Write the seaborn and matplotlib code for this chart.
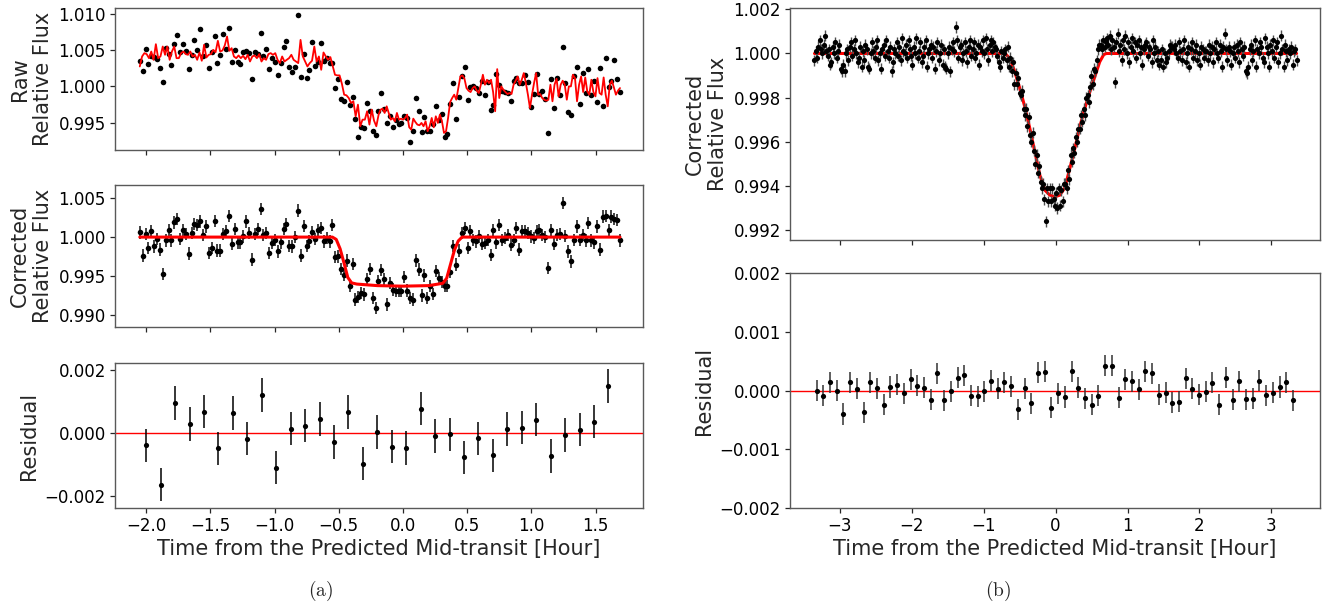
import numpy as np
import matplotlib
matplotlib.use("Agg")
import matplotlib.pyplot as plt
from matplotlib.ticker import FuncFormatter
import seaborn as sns

# ---------------- (a) left column ----------------
# time range of the observation (hours from predicted mid-transit)
t_a_start, t_a_end = -2.05, 1.69

# raw flux, deviation from 1 in units of 1e-4
raw_dev = [34.2, 20.5, 51.1, 30.1, 42.0, 39.7, 37.4, 25.1, 6.4, 52.5,
           44.3, 28.8, 58.4, 70.3, 46.6, 58.0, 48.9, 23.3, 42.5, 64.4,
           50.2, 78.5, 42.0, 56.6, 24.7, 47.5, 69.4, 32.4, 43.4, 72.1,
           51.6, 79.9, 32.9, 49.8, 32.9, 30.6, 47.9, 48.9, 45.7, 9.6,
           46.6, 44.3, 73.1, 42.0, 51.6, 24.2, 38.4, 32.9, 15.1, 32.0,
           53.9, 62.6, 26.9, 20.1, 26.5, 98.2, 12.8, 44.7, 11.9, 21.9,
           60.7, 28.3, 32.9, 59.8, 34.2, 39.3, 32.0, 32.4, -2.3, 9.6,
           -17.4, -19.6, 5.5, -26.0, -15.1, -44.3, -69.4, -55.7, -56.6, -22.8,
           -33.3, -60.7, -67.1, -33.3,
           -9.6, -31.0, -49.8, -40.2, -56.2, -45.7, -51.6, -50.2, -41.1, -42.9,
           -76.3, -60.7, -16.4, -34.2, -63.0, -42.0, -60.7, -61.6, -51.6, -26.5,
           -45.7, -38.4, -68.9, -65.3, -23.7, 4.1, -44.7, -15.1, 13.7, 26.0,
           -18.7, -1.4, 0.0, -2.3, -9.1, 7.3, -11.4, 5.5, -32.4, -25.1,
           16.4, 1.4, -5.9, -7.8, -8.7, -20.1, 6.8, 11.4, 4.6, 4.6,
           16.0, 6.4, -28.3, -10.5, 16.9, -10.5, -6.8, -17.4, -63.9, 9.6,
           -30.1, 11.4, -11.4, 54.8, 4.1, -35.2, -38.8, 13.7, 26.0, -24.2,
           18.3, -9.1, 23.7, -11.4, 6.8, -21.9, 25.1, -27.4, 38.8, -1.4,
           7.8, 35.6, 10.5, -7.8]

# full (systematics x transit) model drawn over the raw flux, 1e-4 units
raw_model_pre = [27.4, 41.1, 45.7, 44.3, 38.8, 47.9, 36.5, 58.0, 38.8, 41.1,
                 54.8, 43.4, 54.8, 36.5, 47.9, 54.8, 38.8, 38.8, 45.7, 47.9,
                 44.3, 43.4, 47.9, 41.1, 43.4, 36.5, 46.6, 35.2, 57.1, 39.7,
                 43.4, 44.3, 50.2, 47.0, 62.6, 47.9, 49.3, 56.2, 68.5, 48.9,
                 52.5, 41.1, 38.8, 42.5, 38.8, 42.0, 37.4, 43.4, 34.2, 41.1,
                 42.5, 38.8, 44.3, 34.2, 38.8, 36.5, 44.3, 45.7, 43.4, 45.7,
                 36.5, 32.0, 41.1, 34.2, 36.5, 38.8, 43.4, 36.5, 34.2, 32.0,
                 63.9, 41.1, 34.2, 27.4, 32.0, 35.2, 54.8, 34.2, 41.1, 22.8,
                 46.6, 41.1, 36.5, 40.2, 28.3, 16.0, 15.1, 15.1, 3.7, -11.4,
                 -12.3, -16.0, -22.8, -20.5, -41.1, -25.1, -54.8, -45.7, -45.7, -34.2,
                 -52.5, -32.0, -47.0, -54.8, -38.8]
raw_model_post = [-32.0, -30.6, -36.5, -27.4, -36.5, -45.7, -43.4, -47.9, -36.5, -45.7,
                  -44.3, -45.7, -43.4, -38.8, -56.2, -59.4, -44.3, -48.9, -52.5, -53.4,
                  -50.2, -54.8, -47.9, -61.6, -54.8, -43.4, -56.2, -41.1, -50.2, -38.8,
                  -47.9, -63.9, -61.6, -43.4, -21.5, -16.0, -11.4, -18.3, -2.3, 13.7,
                  15.1, 10.5, -2.3, -5.9, -7.8, -2.3, 0.0, -5.9, -9.1, 2.3,
                  16.0, 2.3, 9.1, 4.6, 9.1, -7.8, -34.2, 23.7, -16.0, 0.0,
                  -4.6, -7.8, -10.5, -9.1, -10.5, 2.3, 7.8, 13.7, 2.3, 9.1,
                  18.3, 4.6, -11.4, -29.7, -11.4, 4.6, 18.3, -11.4, -10.5, -16.0,
                  -18.3, -19.6, -18.3, 2.3, -20.5, 2.3, 10.5, -13.7, 2.3, 7.8,
                  2.3, -18.3, 0.0, 0.0, 16.0, 11.4, -20.5, 2.3, 13.7, -7.8,
                  12.3, -6.8, -11.4, 9.1, -7.8, -13.7, 11.4, -9.1, -11.4, 12.3,
                  -11.4, -27.4, 2.3, 7.8, -1.4, -11.4, -5.9, -2.3]
raw_model_split = (-0.19, -0.175)

# corrected flux, 1e-4 units
corr_dev = [6.0, -23.9, 3.8, -13.7, 7.3, -12.0, -2.6, -16.2, -47.4, -4.3,
            9.4, -4.3, 18.8, 23.1, -2.6, 9.4, 3.8, -21.4, 5.1, 17.1,
            15.8, 20.1, 3.0, 13.7, -20.5, -14.1, 20.9, -17.5, -17.5, 3.8,
            8.1, 27.4, -8.5, 10.3, -6.8, -6.8, 0.9, 20.1, 5.1, -29.1,
            3.8, 10.3, 35.9, 3.0, 5.1, -20.5, -7.7, -3.4, -18.4, -6.8,
            10.3, 17.1, -11.1, -12.0, 0.0, 34.2, -23.9, 14.5, -11.1, -5.6,
            6.0, -2.6, 9.4, 11.5, -5.6, -1.3, -5.6, 15.8, -25.6, -24.8,
            -41.0, -48.3, -30.3, -63.3, -34.6, -80.4, -76.9, -71.8, -73.9, -53.9,
            -41.0, -78.2, -91.0, -56.8,
            -42.7, -53.9, -86.8, -59.0, -67.5, -69.7, -69.7, -69.7, -51.7, -68.8,
            -78.2, -80.4, -29.9, -41.9, -75.2, -49.2, -78.2, -63.3, -73.1, -44.0,
            -52.6, -57.7, -63.3, -63.3, -45.3, -11.1, -35.5, -17.5, 5.1, 11.5,
            -14.1, 7.3, -3.4, -5.6, 0.9, -8.5, -7.7, -3.4, -22.7, 8.5,
            -6.8, 15.8, -3.4, -1.3, 3.0, -9.8, -3.4, 11.5, -16.2, 7.3,
            7.3, 5.1, 0.9, -1.3, 7.3, 9.4, 3.0, 0.0, -39.7, 8.5,
            -8.5, 3.0, 4.3, 43.6, 1.7, -18.4, -31.2, -3.4, 13.7, -3.4,
            3.0, -4.3, 18.0, -4.3, -6.8, 13.7, -16.2, 26.5, 27.4, 9.4,
            26.5, 23.1, 22.2, -4.3]
corr_err = 0.0008

# transit model (a): time knots and depth (1e-4 units)
transit_a_t = [-2.05, -0.55, -0.52, -0.49, -0.46, -0.43, -0.40, -0.36, -0.20, 0.0,
               0.20, 0.31, 0.34, 0.37, 0.40, 0.43, 0.46, 1.69]
transit_a_dev = [0, 0, -3, -15, -33, -52, -59, -60.5, -62.5, -63.2,
                 -62.5, -59.5, -53, -35, -17, -5, 0, 0]

# binned residuals (a), units of 1e-3
res_a_start, res_a_end = -2.0, 1.60
res_a = [-0.40, -1.65, 0.94, 0.27, 0.67, -0.50, 0.62, -0.19, 1.20, -1.11,
         0.13, 0.22, 0.44, -0.29, 0.65, -0.98, 0.02, -0.44, -0.49, 0.76,
         -0.11, -0.05, -0.78, -0.18, -0.72, 0.11, 0.16, 0.41, -0.74, -0.08,
         0.10, 0.35, 1.48]
res_a_err = 0.00053

# ---------------- (b) right column ----------------
t_b_start, t_b_end = -3.35, 3.35
corr_b_dev = [-3, 1, -2, 3, 6, 2, 0, 4, 8, 1,
              -1, 2, -5, -4, 3, 0, 5, -2, 1, 4,
              -7, -8, -5, -8, 0, 2, -3, 3, 5, -1,
              2, 6, 0, -4, -2, 3, -6, 1, -3, 4,
              2, -6, -7, 0, 5, 1, -2, 3, 6, -3,
              0, -7, 2, 4, -1, 6, 1, -2, 3, -8,
              -4, 2, 0, 5, -1, 3, -3, 7, 1, 0,
              4, -2, 6, 2, -1, -5, 3, 0, 7, -2,
              1, 5, -4, -1, 3, 6, -6, 0, 2, 4,
              -2, 3, -7, 1, 5, -3, 0, 4, -5, 2,
              -6, -7, 0, 3, -8, 2, 5, 1, 12, 6,
              -2, 3, 4, -3, 0, 5, 1, -4, 3, 6,
              -1, 2, 5, -2, 0, 4, -5, 3, 1, 6,
              0, 7, 2, -3, 4, 6, 1, 5, 3, 2,
              -1, -4, -6, 1, -2, 0,
              2, -3, 3, -6, -2, -8, -4, -14, -9, -14,
              -11, -18, -19, -17, -25, -28, -25, -33, -29, -37,
              -40, -36, -44, -50, -46, -54, -51, -58, -61, -59,
              -66, -76, -61, -67, -61, -67, -61, -66, -69, -63,
              -70, -61, -69, -62, -67, -59, -59, -61, -53, -57,
              -46, -49, -43, -45, -38, -40, -34, -34, -28, -31,
              -25, -28, -20, -19, -22, -15, -10, -14, -7, -8,
              -3, 2, 4, 4, 2, 6, 3, 5,
              7, 4, 8, 2, 6, 3, -13, 5, 9, 1,
              4, -3, 6, 2, 8, 0, 5, -4, 3, 7,
              1, 5, -2, 4, 6, 0, 3, -5, 2, 4,
              5, -1, 3, 2, -4, 6, 0, 3, -3, 1,
              -5, -3, 2, -6, 0, -4, -2, 1, 4, 3,
              3, 2, 4, 0, -2, 5, 1, -3, 2, 6,
              -4, 0, 3, -6, 2, 5, -2, 1, 4, -3,
              0, -5, 3, 2, -2, 1, 1, -3, 4, 0,
              3, -4, 2, 5, 0, -2, 4, 1, -6, 3,
              9, 2, -3, 3, 1, -5, 0, 3, -2, 4,
              1, -4, 5, 2, -1, 3, -8, -9, -6, 2,
              4, -3, 1, 6, -6, 2, 0, 5, 3, -2,
              -4, 7, 3, 0, -6, 4, 1, 6, -2, 3,
              5, -4, 0, 8, 2, -6, 4, 1, -3, 2,
              0, 3, -5, 1, 2, -3]
corr_b_err = 0.00025

transit_b_t = [-3.35, -0.70, -0.635, -0.566, -0.496, -0.427, -0.357, -0.288, -0.218,
               -0.149, -0.079, -0.010, 0.059, 0.129, 0.198, 0.268, 0.337, 0.406,
               0.476, 0.545, 0.614, 0.67, 0.707, 3.35]
transit_b_dev = [0, 0, -2.3, -8.3, -15.9, -24.2, -34.0, -44.5, -55.1,
                 -61.9, -64.2, -64.9, -64.2, -60.9, -52.1, -43.0, -33.2, -24.9,
                 -17.4, -10.6, -3.8, -0.5, 0, 0]

res_b_start, res_b_end = -3.32, 3.30
res_b = [0.0, -0.09, 0.14, 0.0, -0.40, 0.14, 0.03, -0.37, 0.14, 0.04,
         -0.24, 0.06, 0.10, -0.05, 0.19, 0.08, 0.05, -0.16, 0.29, -0.17,
         -0.01, 0.22, 0.26, -0.09, -0.10, -0.01, 0.17, 0.03, 0.14, 0.07,
         -0.32, 0.04, -0.22, 0.30, 0.32, -0.29, -0.05, -0.11, 0.33, 0.05,
         -0.13, -0.24, -0.09, 0.42, 0.42, -0.12, 0.19, 0.16, 0.02, 0.33,
         0.29, -0.07, -0.04, -0.21, -0.19, 0.21, 0.03, -0.07, -0.02, 0.13,
         -0.24, 0.22, -0.16, 0.16, -0.15, -0.14, 0.17, -0.08, -0.04, 0.06,
         0.14, -0.17]
res_b_err = 0.00018

x_label = "Time from the Predicted Mid-transit [Hour]"

# ---------------- derived arrays ----------------
t_raw = np.linspace(t_a_start, t_a_end, len(raw_dev))
raw_flux = 1 + np.array(raw_dev) * 1e-4
corr_flux = 1 + np.array(corr_dev) * 1e-4
t_model_raw = np.concatenate([np.linspace(t_a_start, raw_model_split[0], len(raw_model_pre)),
                              np.linspace(raw_model_split[1], t_a_end, len(raw_model_post))])
model_raw = 1 + np.array(raw_model_pre + raw_model_post) * 1e-4
transit_a = 1 + np.array(transit_a_dev) * 1e-4
t_res_a = np.linspace(res_a_start, res_a_end, len(res_a))
res_a_v = np.array(res_a) * 1e-3

t_b = np.linspace(t_b_start, t_b_end, len(corr_b_dev))
corr_b = 1 + np.array(corr_b_dev) * 1e-4
transit_b = 1 + np.array(transit_b_dev) * 1e-4
t_res_b = np.linspace(res_b_start, res_b_end, len(res_b))
res_b_v = np.array(res_b) * 1e-3

# ---------------- figure ----------------
sns.set_theme(style="ticks")
plt.rcParams['font.family'] = ['DejaVu Sans']
plt.rcParams['mathtext.fontset'] = 'cm'

W, H = 1338, 609
fig = plt.figure(figsize=(W / 100, H / 100), dpi=100)
fig.patch.set_facecolor("white")


def add_ax(x0, y0, x1, y1):
    return fig.add_axes([x0 / W, 1 - y1 / H, (x1 - x0) / W, (y1 - y0) / H])


ax_raw = add_ax(115, 8, 643, 150)
ax_cor = add_ax(115, 185, 643, 327)
ax_res = add_ax(115, 363, 643, 508)
ax_rc = add_ax(790, 8, 1320, 240)
ax_rr = add_ax(790, 273, 1320, 508)


def fmt(dec):
    def f(v, p):
        s = f"{round(v, dec) + 0.0:.{dec}f}"
        return s.replace("-", "\u2212")
    return FuncFormatter(f)


def dots(ax, x, y, s=14, z=3):
    sns.scatterplot(x=x, y=y, ax=ax, color="black", s=s, linewidth=0,
                    zorder=z, legend=False)


def line(ax, x, y, lw, z=4):
    sns.lineplot(x=x, y=y, ax=ax, color="red", linewidth=lw,
                 estimator=None, sort=False, zorder=z, legend=False)


# raw
dots(ax_raw, t_raw, raw_flux, s=16)
line(ax_raw, t_model_raw, model_raw, 1.3)
# corrected
ax_cor.errorbar(t_raw, corr_flux, yerr=corr_err, fmt="none", ecolor="0.2",
                elinewidth=1.3, capsize=0, zorder=2)
dots(ax_cor, t_raw, corr_flux, s=16)
line(ax_cor, transit_a_t, transit_a, 2.2)
# residual a
ax_res.errorbar(t_res_a, res_a_v, yerr=res_a_err, fmt="none", ecolor="black",
                elinewidth=1.1, capsize=0, zorder=2)
dots(ax_res, t_res_a, res_a_v, s=14)
ax_res.axhline(0, color="red", lw=1.0, zorder=1)

# right corrected
line(ax_rc, transit_b_t, transit_b, 2.2, z=1)
ax_rc.errorbar(t_b, corr_b, yerr=corr_b_err, fmt="none", ecolor="0.3",
               elinewidth=1.0, capsize=0, zorder=2)
dots(ax_rc, t_b, corr_b, s=14)
# right residual
ax_rr.errorbar(t_res_b, res_b_v, yerr=res_b_err, fmt="none", ecolor="0.2",
               elinewidth=1.1, capsize=0, zorder=2)
dots(ax_rr, t_res_b, res_b_v, s=14)
ax_rr.axhline(0, color="red", lw=1.0, zorder=1)

# limits / ticks
for ax in (ax_raw, ax_cor, ax_res):
    ax.set_xlim(-2.243, 1.869)
    ax.set_xticks(np.arange(-2.0, 1.51, 0.5))
    ax.xaxis.set_major_formatter(fmt(1))
for ax in (ax_rc, ax_rr):
    ax.set_xlim(-3.69, 3.675)
    ax.set_xticks(np.arange(-3, 3.1, 1))
    ax.xaxis.set_major_formatter(fmt(0))

ax_raw.set_ylim(0.99126, 1.01077)
ax_raw.set_yticks([0.995, 1.000, 1.005, 1.010])
ax_cor.set_ylim(0.98842, 1.00671)
ax_cor.set_yticks([0.990, 0.995, 1.000, 1.005])
ax_res.set_ylim(-0.00239, 0.00221)
ax_res.set_yticks([-0.002, 0.0, 0.002])
ax_rc.set_ylim(0.99155, 1.00206)
ax_rc.set_yticks([0.992, 0.994, 0.996, 0.998, 1.000, 1.002])
ax_rr.set_ylim(-0.002, 0.002)
ax_rr.set_yticks([-0.002, -0.001, 0.0, 0.001, 0.002])

for ax in (ax_raw, ax_cor, ax_res, ax_rc, ax_rr):
    ax.yaxis.set_major_formatter(fmt(3))
    ax.tick_params(direction="out", length=3.5, width=0.9, colors="0.15",
                   labelsize=12, labelcolor="black", pad=3)
    for sp in ax.spines.values():
        sp.set_visible(True)
        sp.set_color("0.35")
        sp.set_linewidth(1.0)
    ax.set_xlabel("")
    ax.set_facecolor("white")

for ax in (ax_raw, ax_cor, ax_rc):
    ax.tick_params(labelbottom=False)

ax_raw.set_ylabel("Raw\nRelative Flux", fontsize=15)
ax_cor.set_ylabel("Corrected\nRelative Flux", fontsize=15)
ax_res.set_ylabel("Residual", fontsize=15)
ax_rc.set_ylabel("Corrected\nRelative Flux", fontsize=15)
ax_rr.set_ylabel("Residual", fontsize=15)
ax_res.set_xlabel(x_label, fontsize=15, labelpad=3)
ax_rr.set_xlabel(x_label, fontsize=15, labelpad=3)

fig.text(321 / W, 1 - 591 / H, r"$\mathrm{(a)}$", fontsize=14, ha="center", va="center")
fig.text(998 / W, 1 - 591 / H, r"$\mathrm{(b)}$", fontsize=14, ha="center", va="center")

fig.savefig("out.png", dpi=100, facecolor="white")
